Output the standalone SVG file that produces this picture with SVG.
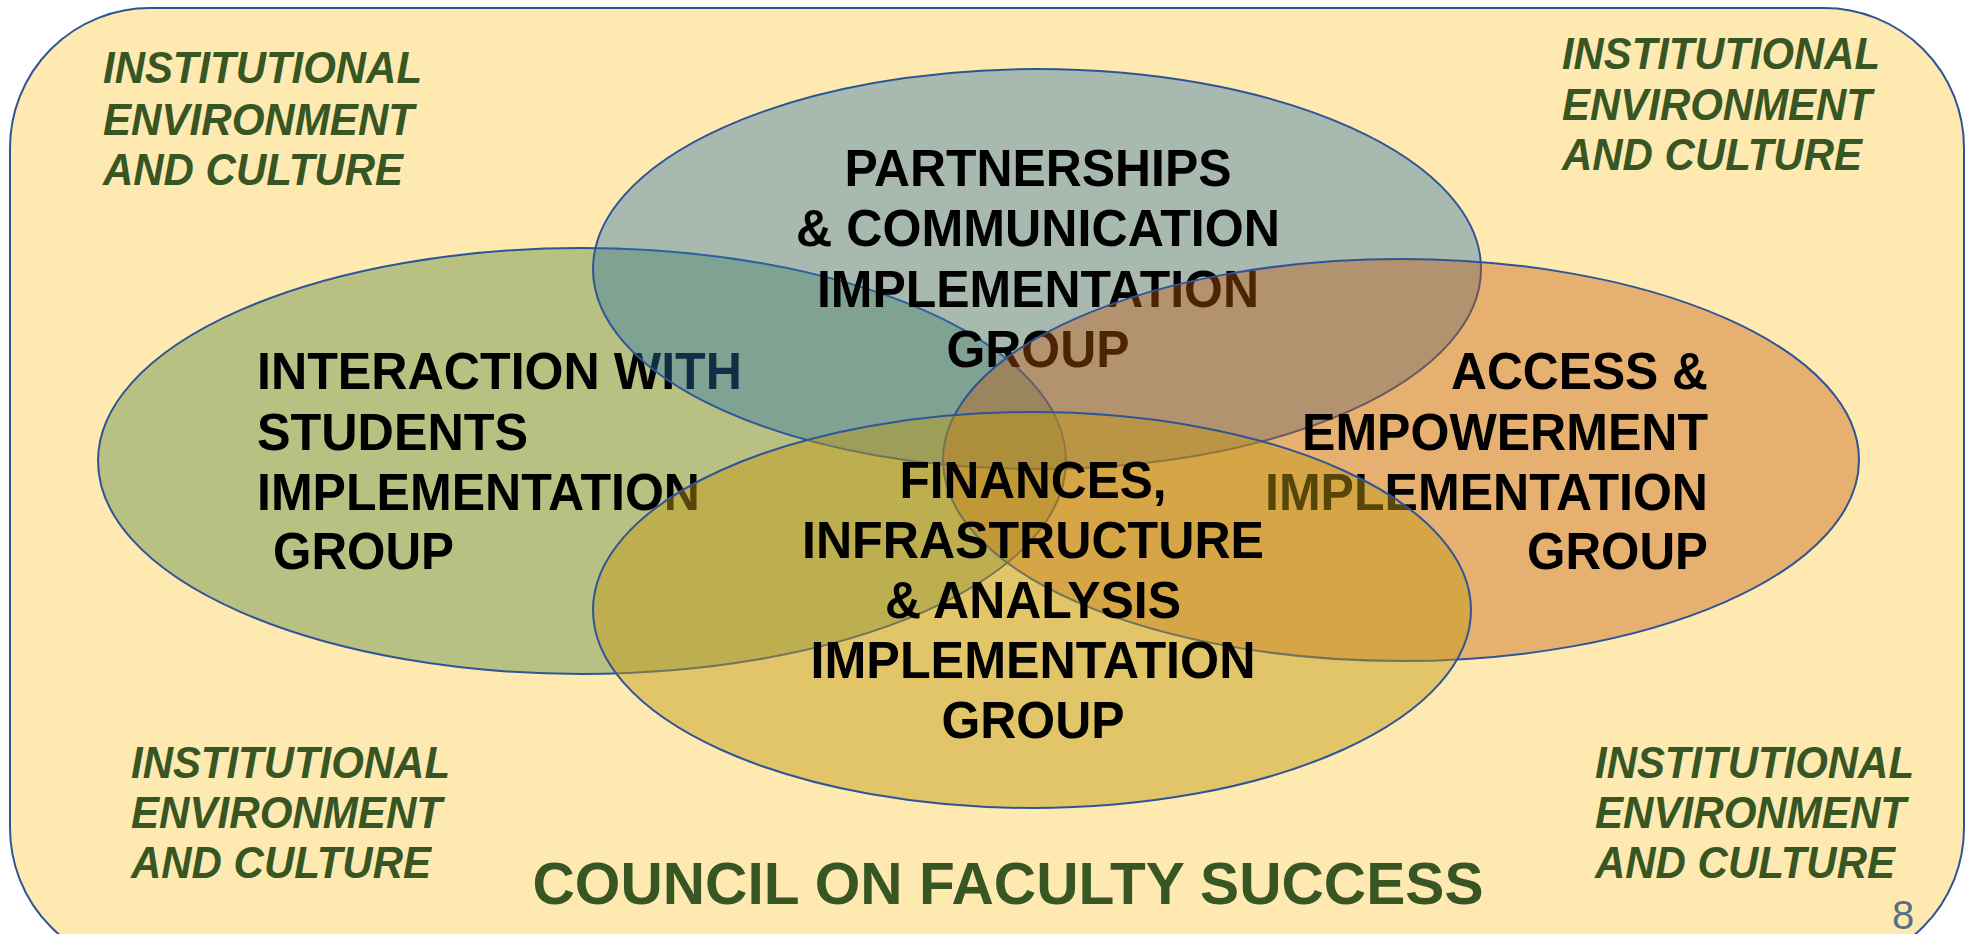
<svg xmlns="http://www.w3.org/2000/svg" width="1975" height="934" viewBox="0 0 1975 934">
<style>
.env{font-family:"Liberation Sans",Arial,sans-serif;font-weight:bold;font-style:italic;font-size:44px;fill:#375623}
.title{font-family:"Liberation Sans",Arial,sans-serif;font-weight:bold;font-size:60px;fill:#375623}
.lbl{font-family:"Liberation Sans",Arial,sans-serif;font-weight:bold;font-size:51px;fill:#000}
.ell{stroke:#2F5597;stroke-width:2}
.pg{font-family:"Liberation Sans",Arial,sans-serif;font-size:40px;fill:#5A707E}
</style>
<rect width="1975" height="934" fill="#ffffff"/>
<g id="council">
<rect x="10" y="8" width="1954" height="960" rx="140" ry="140" fill="#FEEAB1" stroke="#2F5597" stroke-width="2"/>
</g>
<g id="env-tl">
<text class="env" x="103" y="83" textLength="319" lengthAdjust="spacingAndGlyphs">INSTITUTIONAL</text>
<text class="env" x="103" y="135" textLength="311" lengthAdjust="spacingAndGlyphs">ENVIRONMENT</text>
<text class="env" x="103" y="185" textLength="300" lengthAdjust="spacingAndGlyphs">AND CULTURE</text>
</g>
<g id="env-tr">
<text class="env" x="1562" y="69" textLength="318" lengthAdjust="spacingAndGlyphs">INSTITUTIONAL</text>
<text class="env" x="1562" y="120" textLength="310" lengthAdjust="spacingAndGlyphs">ENVIRONMENT</text>
<text class="env" x="1562" y="170" textLength="300" lengthAdjust="spacingAndGlyphs">AND CULTURE</text>
</g>
<g id="env-bl">
<text class="env" x="131" y="778" textLength="319" lengthAdjust="spacingAndGlyphs">INSTITUTIONAL</text>
<text class="env" x="131" y="828" textLength="311" lengthAdjust="spacingAndGlyphs">ENVIRONMENT</text>
<text class="env" x="131" y="878" textLength="300" lengthAdjust="spacingAndGlyphs">AND CULTURE</text>
</g>
<g id="env-br">
<text class="env" x="1595" y="778" textLength="319" lengthAdjust="spacingAndGlyphs">INSTITUTIONAL</text>
<text class="env" x="1595" y="828" textLength="311" lengthAdjust="spacingAndGlyphs">ENVIRONMENT</text>
<text class="env" x="1595" y="878" textLength="300" lengthAdjust="spacingAndGlyphs">AND CULTURE</text>
</g>
<g id="title">
<text class="title" x="1008" y="904" text-anchor="middle" textLength="951" lengthAdjust="spacingAndGlyphs">COUNCIL ON FACULTY SUCCESS</text>
</g>
<g id="page-number">
<text class="pg" x="1892" y="929">8</text>
</g>
<g id="interaction">
<ellipse class="ell" cx="582" cy="461" rx="484" ry="213" fill="#B9C182"/>
<text class="lbl" x="257" y="389" textLength="485" lengthAdjust="spacingAndGlyphs">INTERACTION WITH</text>
<text class="lbl" x="257" y="450" textLength="271" lengthAdjust="spacingAndGlyphs">STUDENTS</text>
<text class="lbl" x="257" y="510" textLength="443" lengthAdjust="spacingAndGlyphs">IMPLEMENTATION</text>
<text class="lbl" x="273" y="569" textLength="181" lengthAdjust="spacingAndGlyphs">GROUP</text>
</g>
<g id="partnerships">
<ellipse class="ell" cx="1037" cy="269" rx="444" ry="200" fill="#2972AD" fill-opacity="0.4"/>
<text class="lbl" x="1038" y="186" text-anchor="middle" textLength="387" lengthAdjust="spacingAndGlyphs">PARTNERSHIPS</text>
<text class="lbl" x="1038" y="246" text-anchor="middle" textLength="484" lengthAdjust="spacingAndGlyphs">&amp; COMMUNICATION</text>
<text class="lbl" x="1038" y="307" text-anchor="middle" textLength="442" lengthAdjust="spacingAndGlyphs">IMPLEMENTATION</text>
<text class="lbl" x="1038" y="367" text-anchor="middle" textLength="183" lengthAdjust="spacingAndGlyphs">GROUP</text>
</g>
<g id="access">
<ellipse class="ell" cx="1401" cy="460" rx="458" ry="201" fill="#C2590F" fill-opacity="0.4"/>
<text class="lbl" x="1708" y="389" text-anchor="end" textLength="257" lengthAdjust="spacingAndGlyphs">ACCESS &amp;</text>
<text class="lbl" x="1708" y="450" text-anchor="end" textLength="406" lengthAdjust="spacingAndGlyphs">EMPOWERMENT</text>
<text class="lbl" x="1708" y="510" text-anchor="end" textLength="443" lengthAdjust="spacingAndGlyphs">IMPLEMENTATION</text>
<text class="lbl" x="1708" y="569" text-anchor="end" textLength="181" lengthAdjust="spacingAndGlyphs">GROUP</text>
</g>
<g id="finances">
<ellipse class="ell" cx="1032" cy="610" rx="439" ry="198" fill="#C49A12" fill-opacity="0.45"/>
<text class="lbl" x="1033" y="498" text-anchor="middle" textLength="267" lengthAdjust="spacingAndGlyphs">FINANCES,</text>
<text class="lbl" x="1033" y="558" text-anchor="middle" textLength="462" lengthAdjust="spacingAndGlyphs">INFRASTRUCTURE</text>
<text class="lbl" x="1033" y="618" text-anchor="middle" textLength="296" lengthAdjust="spacingAndGlyphs">&amp; ANALYSIS</text>
<text class="lbl" x="1033" y="678" text-anchor="middle" textLength="445" lengthAdjust="spacingAndGlyphs">IMPLEMENTATION</text>
<text class="lbl" x="1033" y="738" text-anchor="middle" textLength="183" lengthAdjust="spacingAndGlyphs">GROUP</text>
</g>
<g id="connectors"/>
</svg>
